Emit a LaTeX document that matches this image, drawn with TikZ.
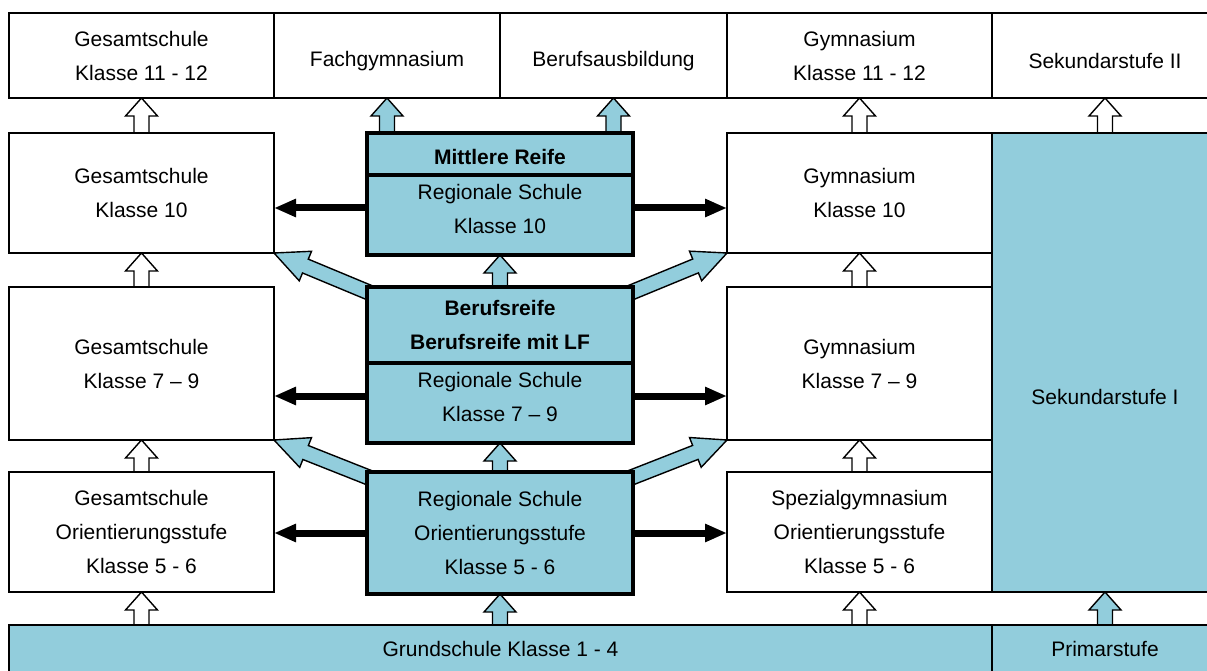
\documentclass[tikz,border=0pt]{standalone}
\usepackage{fontspec}
\setmainfont{Liberation Sans}
\usepackage{xcolor}
\usepackage{tikz}
\usetikzlibrary{arrows.meta}
\usetikzlibrary{positioning}
\usetikzlibrary{calc}
\usetikzlibrary{backgrounds}

\definecolor{stufe}{RGB}{146,205,220}
\newcommand{\schrift}{\fontsize{21}{34}\selectfont}

% Blockpfeil: #1 Füllung, #2 Kopflänge, #3 von, #4 nach
\newcommand{\blockpfeil}[4][white]{%
  \coordinate (bp-hals) at ($(#4)!#2!(#3)$);
  \filldraw[fill=#1, draw=black, line width=1.4pt, line join=miter]
    ($(#3)!7.5pt!90:(#4)$) -- ($(bp-hals)!7.5pt!90:(#4)$) -- ($(bp-hals)!16pt!90:(#4)$)
    -- (#4) -- ($(bp-hals)!16pt!-90:(#4)$) -- ($(bp-hals)!7.5pt!-90:(#4)$)
    -- ($(#3)!7.5pt!-90:(#4)$) -- cycle;
}

\begin{document}
\begin{tikzpicture}
    [x=1pt, y=-1pt,
      % Stil für Schulformen
      schule/.style={rectangle, draw=black, fill=white, line width=1.4pt, outer sep=0pt, align=center, font=\schrift},
      % Stil für Stufen
      stufe/.style={schule, fill=stufe},
      % Stil für die Regionale Schule
      regio/.style={stufe, line width=3.2pt, minimum width=266pt},
      titel/.style={regio, font=\schrift\bfseries},
      % Stil für die schwarzen Pfeile
      pfeil/.style={line width=7pt, -{Triangle[length=22pt, width=17pt]}},
      % Distanz zwischen den Knoten
      node distance=0pt]
    \useasboundingbox (0,0) rectangle (1207,671);
    \clip (0,0) rectangle (1207,671);

    % Knoten
    \node[schule, minimum width=265pt, minimum height=85pt] (gs1112) at (141.5,55.5) {Gesamtschule\\Klasse 11 - 12};
    \node[schule, minimum width=226pt, minimum height=85pt, text height=26pt, right=of gs1112] (fachgym) {Fachgymnasium};
    \node[schule, minimum width=227pt, minimum height=85pt, text height=26pt, right=of fachgym] (beruf) {Berufsausbildung};
    \node[schule, minimum width=265pt, minimum height=85pt, right=of beruf] (gym1112) {Gymnasium\\Klasse 11 - 12};
    \node[schule, minimum width=226pt, minimum height=85pt, text height=26pt, right=of gym1112] (sek2) {Sekundarstufe II};

    \node[schule, minimum width=265pt, minimum height=120pt] (gs10) at (141.5,193) {Gesamtschule\\Klasse 10};
    \node[schule, minimum width=265pt, minimum height=120pt] (gym10) at (859.5,193) {Gymnasium\\Klasse 10};
    \node[titel, minimum height=42pt, text height=22pt] (mrtitel) at (500,154) {Mittlere Reife};
    \node[regio, minimum height=80pt, text depth=12pt, below=of mrtitel] (mrschule) {Regionale Schule\\Klasse 10};

    \node[stufe, minimum width=226pt, minimum height=459pt,
      label={[font=\schrift, yshift=-34pt]center:Sekundarstufe I}] (sek1) at (1105,362.5) {};

    \node[schule, minimum width=265pt, minimum height=153pt] (gs79) at (141.5,363.5) {Gesamtschule\\Klasse 7 -- 9};
    \node[schule, minimum width=265pt, minimum height=153pt] (gym79) at (859.5,363.5) {Gymnasium\\Klasse 7 -- 9};
    \node[titel, minimum height=76pt] (brtitel) at (500,325) {Berufsreife\\Berufsreife mit LF};
    \node[regio, minimum height=80pt, text depth=12pt, below=of brtitel] (brschule) {Regionale Schule\\Klasse 7 -- 9};

    \node[schule, minimum width=265pt, minimum height=120pt] (gsos) at (141.5,532) {Gesamtschule\\Orientierungsstufe\\Klasse 5 - 6};
    \node[schule, minimum width=265pt, minimum height=120pt] (spez) at (859.5,532) {Spezialgymnasium\\Orientierungsstufe\\Klasse 5 - 6};
    \node[regio, minimum height=122pt] (rsos) at (500,533) {Regionale Schule\\Orientierungsstufe\\Klasse 5 - 6};

    \node[stufe, minimum width=983pt, minimum height=48pt] (gs14) at (500.5,649) {Grundschule Klasse 1 - 4};
    \node[stufe, minimum width=226pt, minimum height=48pt, right=of gs14] (primar) {Primarstufe};

    % Kanten
    \begin{scope}[on background layer]
      \blockpfeil{18pt}{gs10.north}{gs1112.south}
      \blockpfeil{18pt}{gs79.north}{gs10.south}
      \blockpfeil{18pt}{gsos.north}{gs79.south}
      \coordinate (g1) at (gs14.north -| gsos.south);
      \blockpfeil{18pt}{g1}{gsos.south}

      \blockpfeil{18pt}{gym10.north}{gym1112.south}
      \blockpfeil{18pt}{gym79.north}{gym10.south}
      \blockpfeil{18pt}{spez.north}{gym79.south}
      \coordinate (g3) at (gs14.north -| spez.south);
      \blockpfeil{18pt}{g3}{spez.south}

      \blockpfeil{18pt}{sek1.north}{sek2.south}
      \blockpfeil[stufe]{18pt}{primar.north}{sek1.south}

      \coordinate (g2) at (gs14.north -| rsos.south);
      \blockpfeil[stufe]{18pt}{g2}{rsos.south}
      \blockpfeil[stufe]{18pt}{rsos.north}{brschule.south}
      \blockpfeil[stufe]{18pt}{brtitel.north}{mrschule.south}
      \coordinate (f1) at (mrtitel.north -| fachgym.south);
      \blockpfeil[stufe]{18pt}{f1}{fachgym.south}
      \coordinate (f2) at (mrtitel.north -| beruf.south);
      \blockpfeil[stufe]{18pt}{f2}{beruf.south}

      \coordinate (d1) at ($(brtitel.north west)+(8,8)$);
      \blockpfeil[stufe]{34pt}{d1}{gs10.south east}
      \coordinate (d2) at ($(brtitel.north east)+(-8,8)$);
      \blockpfeil[stufe]{34pt}{d2}{gym10.south west}
      \coordinate (d3) at ($(rsos.north west)+(8,8)$);
      \blockpfeil[stufe]{34pt}{d3}{gs79.south east}
      \coordinate (d4) at ($(rsos.north east)+(-8,8)$);
      \blockpfeil[stufe]{34pt}{d4}{gym79.south west}

      \coordinate (s1) at ([yshift=7pt]mrschule.west);
      \coordinate (s2) at ([yshift=7pt]mrschule.east);
      \coordinate (s3) at ([yshift=7pt]brschule.west);
      \coordinate (s4) at ([yshift=7pt]brschule.east);
      \draw[pfeil] (s1) -- (s1 -| gs10.east);
      \draw[pfeil] (s2) -- (s2 -| gym10.west);
      \draw[pfeil] (s3) -- (s3 -| gs79.east);
      \draw[pfeil] (s4) -- (s4 -| gym79.west);
      \draw[pfeil] (rsos.west) -- (gsos.east |- rsos.west);
      \draw[pfeil] (rsos.east) -- (spez.west |- rsos.east);
    \end{scope}
\end{tikzpicture}
\end{document}
